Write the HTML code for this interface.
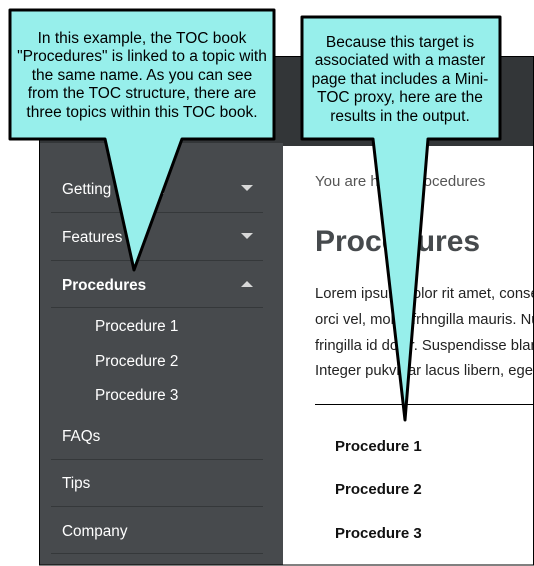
<!DOCTYPE html>
<html><head><meta charset="utf-8"><style>
html,body{margin:0;padding:0;background:#fff;}
svg{display:block;font-family:"Liberation Sans",Arial,sans-serif;}
</style></head><body>
<svg width="534" height="566" viewBox="0 0 534 566" xmlns="http://www.w3.org/2000/svg">
<defs><clipPath id="c"><rect x="283" y="146" width="250" height="419"/></clipPath></defs>
<rect x="0" y="0" width="534" height="566" fill="#fff"/>
<rect x="39" y="56" width="495" height="90" fill="#333638"/>
<rect x="39" y="143" width="244" height="422" fill="#474a4d"/>
<rect x="283" y="146" width="251" height="419" fill="#fff"/>
<rect x="39.5" y="56.5" width="494" height="508.5" fill="none" stroke="#000" stroke-width="1"/>
<g fill="#fff" font-size="15.3">
<text x="62" y="194">Getting Started</text>
<text x="62" y="242">Features</text>
<text x="62" y="290" font-weight="bold">Procedures</text>
<text x="95" y="331">Procedure 1</text>
<text x="95" y="366">Procedure 2</text>
<text x="95" y="400">Procedure 3</text>
<text x="62" y="441">FAQs</text>
<text x="62" y="488">Tips</text>
<text x="62" y="536">Company</text>
</g>
<g fill="#d8d8d8">
<polygon points="241,185 253,185 247,191"/>
<polygon points="241,233 253,233 247,239"/>
<polygon points="241,287 253,287 247,281"/>
</g>
<g stroke="#35383a" stroke-width="1">
<line x1="51" y1="212.5" x2="263" y2="212.5"/>
<line x1="51" y1="260.5" x2="263" y2="260.5"/>
<line x1="51" y1="307.5" x2="263" y2="307.5"/>
<line x1="51" y1="459.5" x2="263" y2="459.5"/>
<line x1="51" y1="506.5" x2="263" y2="506.5"/>
<line x1="51" y1="553.5" x2="263" y2="553.5"/>
</g>
<g clip-path="url(#c)">
<text x="315" y="186" font-size="15" fill="#555">You are here: Procedures</text>
<text x="315" y="251" font-size="30" font-weight="bold" fill="#464a4d">Procedures</text>
<g font-size="14.8" fill="#222">
<text x="315" y="298">Lorem ipsum dolor rit amet, consectetur</text>
<text x="315" y="324">orci vel, mollis frhngilla mauris. Nulla</text>
<text x="315" y="350">fringilla id dolor. Suspendisse blandit</text>
<text x="315" y="375">Integer pukvinar lacus libern, eget</text>
</g>
</g>
<line x1="315" y1="404.5" x2="534" y2="404.5" stroke="#000" stroke-width="1"/>
<g font-size="15" font-weight="bold" fill="#111">
<text x="335" y="451">Procedure 1</text>
<text x="335" y="494">Procedure 2</text>
<text x="335" y="538">Procedure 3</text>
</g>
<g stroke="#000" stroke-width="3" stroke-linejoin="round" fill="#97efeb">
<path d="M10,10 H274 V139 H182 L134,270 L105,139 H10 Z"/>
<path d="M302,17 H500 V139 H428 L405,420 L373,139 H302 Z"/>
</g>
<g font-size="15.5" fill="#000" text-anchor="middle">
<text x="142" y="43">In this example, the TOC book</text>
<text x="142" y="61">"Procedures" is linked to a topic with</text>
<text x="142" y="80">the same name. As you can see</text>
<text x="142" y="98">from the TOC structure, there are</text>
<text x="142" y="117">three topics within this TOC book.</text>
<text x="400" y="47">Because this target is</text>
<text x="400" y="65">associated with a master</text>
<text x="400" y="84">page that includes a Mini-</text>
<text x="400" y="102">TOC proxy, here are the</text>
<text x="400" y="121">results in the output.</text>
</g>
</svg>
</body></html>
